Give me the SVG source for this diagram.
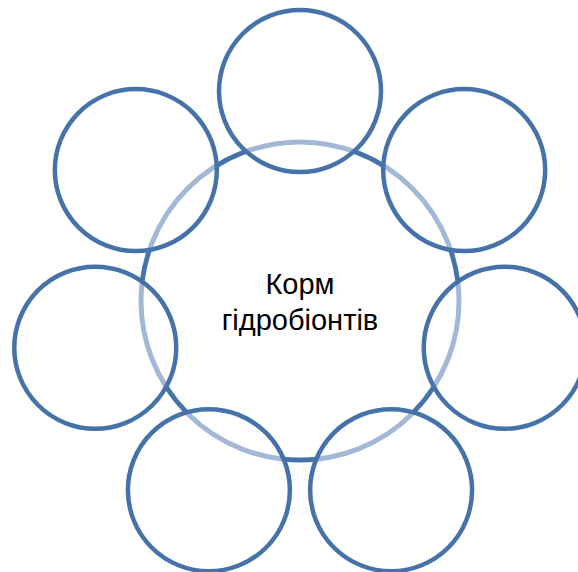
<svg xmlns="http://www.w3.org/2000/svg" width="578" height="572" viewBox="0 0 578 572">
  <style>
    .ring { fill: none; stroke: #A3B8D7; stroke-width: 5; }
    .conn { fill: none; stroke: #4672AA; stroke-width: 4.5; }
    .node { fill: none; stroke: #4672AA; stroke-width: 4.5; }
    .label { font-family: "Liberation Sans", Arial, sans-serif; font-size: 29px; fill: #000000; text-anchor: middle; }
  </style>
  <rect width="578" height="572" fill="#ffffff"/>
  <g id="center">
    <circle class="ring" cx="300" cy="301" r="159"/>
    <text class="label" x="300" y="294">Корм</text>
    <text class="label" x="300" y="330">гідробіонтів</text>
  </g>
  <g id="connectors">
    <path class="conn" d="M 353.97 151.45 A 159 159 0 0 1 383.30 165.57"/>
    <path class="conn" d="M 450.57 249.94 A 159 159 0 0 1 457.82 281.68"/>
    <path class="conn" d="M 433.80 386.89 A 159 159 0 0 1 413.46 412.38"/>
    <path class="conn" d="M 316.26 459.17 A 159 159 0 0 1 283.74 459.17"/>
    <path class="conn" d="M 186.54 412.38 A 159 159 0 0 1 166.20 386.89"/>
    <path class="conn" d="M 142.18 281.68 A 159 159 0 0 1 149.43 249.94"/>
    <path class="conn" d="M 216.70 165.57 A 159 159 0 0 1 246.03 151.45"/>
  </g>
  <g id="node-top"><circle class="node" cx="300" cy="91" r="81"/></g>
  <g id="node-top-right"><circle class="node" cx="464.18" cy="170.07" r="81"/></g>
  <g id="node-right"><circle class="node" cx="504.74" cy="347.73" r="81"/></g>
  <g id="node-bottom-right"><circle class="node" cx="391.11" cy="490.20" r="81"/></g>
  <g id="node-bottom-left"><circle class="node" cx="208.89" cy="490.20" r="81"/></g>
  <g id="node-left"><circle class="node" cx="95.26" cy="347.73" r="81"/></g>
  <g id="node-top-left"><circle class="node" cx="135.82" cy="170.07" r="81"/></g>
</svg>
